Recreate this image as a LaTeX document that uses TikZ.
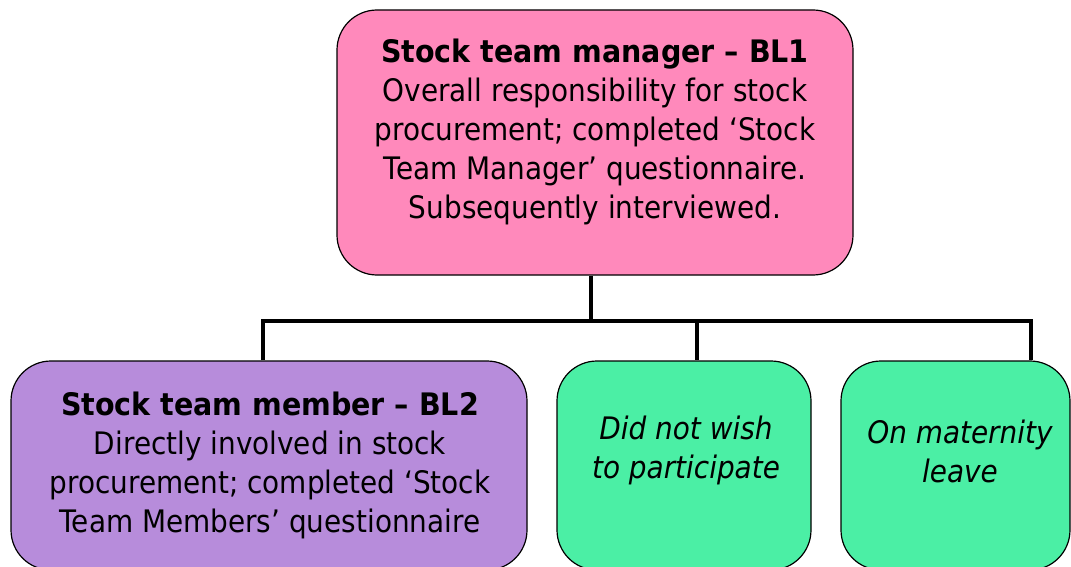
\documentclass[tikz,border=0pt]{standalone}
\usepackage{fontspec}
\setmainfont{DejaVu Sans}[FakeStretch=0.9, BoldFeatures={FakeStretch=0.92}]
\usetikzlibrary{positioning,calc}
\definecolor{mgrpink}{RGB}{255,137,187}
\definecolor{memberlilac}{RGB}{183,140,219}
\definecolor{othergreen}{RGB}{75,239,165}

\begin{document}
\begin{tikzpicture}[x=1pt, y=-1pt,
  orgbox/.style={draw=black, line width=1.2pt, rounded corners=40pt, inner sep=0pt},
  boxtext/.style={align=center, font=\fontsize{31}{39}\selectfont},
  link/.style={draw=black, line width=3.3pt}]
  \useasboundingbox (0,0) rectangle (1071,567);
  \clip (0,0) rectangle (1071,567);

  % boxes
  \node[orgbox, fill=mgrpink, minimum width=516pt, minimum height=265pt] (mgr) at (595,142.5) {};
  \node[orgbox, fill=memberlilac, minimum width=516pt, minimum height=209pt] (member) at (269,465.5) {};
  \node[orgbox, fill=othergreen, minimum width=254pt, minimum height=209pt] (declined) at (684,465.5) {};
  \node[orgbox, fill=othergreen, minimum width=229pt, minimum height=209pt] (leave) at (955.5,465.5) {};

  % texts
  \node[boxtext] (mgrtext) at (595,132) {\textbf{Stock team manager – BL1}\\Overall responsibility for stock\\procurement; completed ‘Stock\\Team Manager’ questionnaire.\\Subsequently interviewed.};
  \node[boxtext] (membertext) at (270,465) {\textbf{Stock team member – BL2}\\Directly involved in stock\\procurement; completed ‘Stock\\Team Members’ questionnaire};
  \node[boxtext, font=\fontsize{31}{39}\selectfont\itshape] (declinedtext) at (686,450) {Did not wish\\to participate};
  \node[boxtext, font=\fontsize{31}{39}\selectfont\itshape] (leavetext) at (960,451) {On maternity\\leave};

  % connectors
  \coordinate (bus) at (591,321);
  \coordinate (memberdrop) at (263,321);
  \coordinate (declineddrop) at (697,321);
  \coordinate (leavedrop) at (1031,321);
  \draw[link] (mgr.south -| bus) -- (bus);
  \draw[link] (member.north -| memberdrop) -- (memberdrop) -- (leavedrop) -- (leave.north -| leavedrop);
  \draw[link] (declineddrop) -- (declined.north -| declineddrop);
\end{tikzpicture}
\end{document}
